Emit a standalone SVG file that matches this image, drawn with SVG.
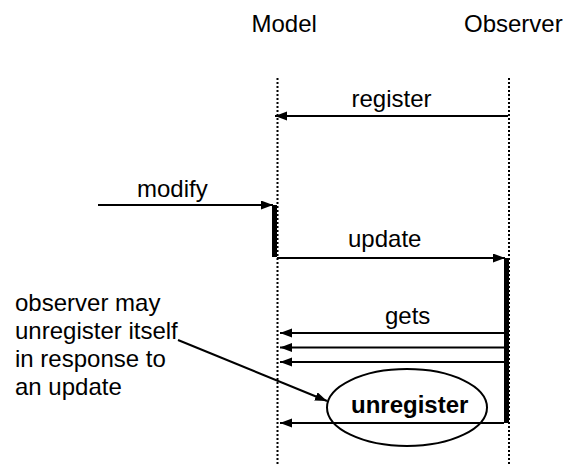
<svg xmlns="http://www.w3.org/2000/svg" width="569" height="464" viewBox="0 0 569 464">
<style>
text{font-family:"Liberation Sans",Arial,sans-serif;font-size:24px;fill:#000}
.life{stroke:#000;stroke-width:2;stroke-dasharray:2,2;fill:none}
.msg{stroke:#000;stroke-width:2;fill:none;marker-end:url(#ah)}
.bar{fill:#000}
</style>
<defs>
<marker id="ah" markerUnits="userSpaceOnUse" markerWidth="13" markerHeight="10" refX="12" refY="4.5" orient="auto">
<path d="M0,0 L12,4.5 L0,9 z" fill="#000"/>
</marker>
</defs>
<rect width="569" height="464" fill="#fff"/>
<g id="model">
<text x="251.5" y="31.5">Model</text>
<line class="life" x1="277.5" y1="78" x2="277.5" y2="464"/>
<rect class="bar" x="272" y="205" width="5" height="52"/>
</g>
<g id="observer">
<text x="464" y="31.5">Observer</text>
<line class="life" x1="509" y1="78" x2="509" y2="464"/>
<rect class="bar" x="504" y="258" width="5" height="165"/>
</g>
<g id="note">
<text x="15" y="311">observer may</text>
<text x="15" y="339">unregister itself</text>
<text x="15" y="367">in response to</text>
<text x="15" y="395">an update</text>
</g>
<g id="unregister">
<ellipse cx="407" cy="407.5" rx="80" ry="38.5" fill="none" stroke="#000" stroke-width="2"/>
<text x="351" y="413" font-weight="bold">unregister</text>
</g>
<g id="connectors">
<line class="msg" x1="508" y1="116" x2="275" y2="116"/>
<text x="351.5" y="107">register</text>
<line class="msg" x1="98" y1="205" x2="273" y2="205"/>
<text x="137" y="197">modify</text>
<line class="msg" x1="277" y1="258" x2="505" y2="258"/>
<text x="348" y="247">update</text>
<line class="msg" x1="504" y1="333" x2="280" y2="333"/>
<line class="msg" x1="504" y1="347.5" x2="280" y2="347.5"/>
<line class="msg" x1="504" y1="362" x2="280" y2="362"/>
<text x="385" y="324">gets</text>
<line class="msg" x1="504" y1="423" x2="280" y2="423"/>
<line class="msg" x1="178" y1="340" x2="327" y2="401"/>
</g>
</svg>
